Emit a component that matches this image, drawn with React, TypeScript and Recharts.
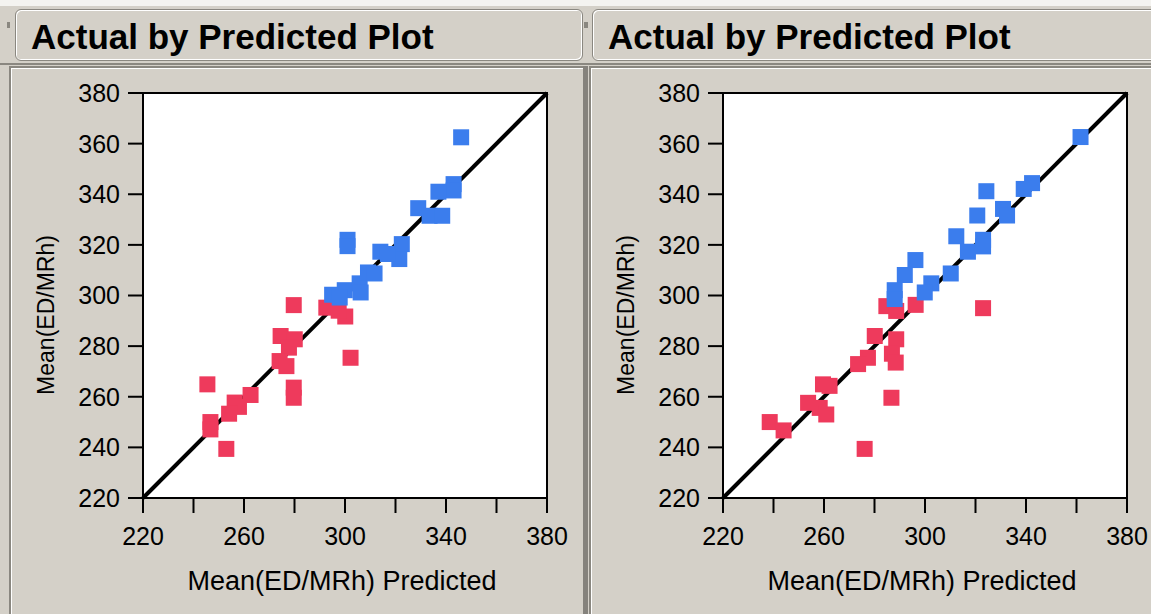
import React from "react";
import {
  ScatterChart,
  Scatter,
  XAxis,
  YAxis,
  ReferenceArea,
  ReferenceLine,
  Label,
} from "recharts";

// axis ticks
const axisTicks = [220, 240, 260, 280, 300, 320, 340, 360, 380];
const xLabelled = [220, 260, 300, 340, 380];

// left panel: predicted (x) / actual (y)
const leftBlueX = [346, 343, 343, 337, 329, 333.5, 338.5, 301, 301, 322.5, 321.5, 314, 317, 294.9, 299.9, 305.8, 306.2, 309.1, 311.7, 297.9];
const leftBlueY = [362.5, 344, 341.5, 341, 334.5, 331.5, 331.5, 322, 319.5, 320.3, 314.4, 317.3, 316.4, 300.3, 302.1, 304.8, 301.2, 309.1, 308.7, 299.2];
const leftRedX = [279.7, 292.6, 300.1, 297.5, 302.2, 274.5, 280.1, 277.8, 274.1, 276.8, 279.7, 279.7, 245.5, 262.6, 256.3, 258, 254.1, 246.7, 246.7, 253];
const leftRedY = [296.2, 295.2, 291.7, 294, 275.4, 284, 282.7, 279.4, 274.1, 272.1, 263.6, 259.6, 264.9, 260.7, 257.7, 256, 253.3, 250, 247.1, 239.4];

// right panel
const rightBlueX = [361.6, 342.4, 339.1, 324.3, 320.7, 330.9, 332.5, 312.4, 323, 323, 317, 310.2, 296.2, 292, 288, 288, 302.5, 299.9];
const rightBlueY = [362.6, 344.4, 342.1, 341.2, 331.6, 334.2, 331.6, 323.4, 322, 319.4, 317.3, 308.7, 314, 308.1, 302.1, 298.6, 304.8, 301.2];
const rightRedX = [323, 284.7, 288.6, 296.3, 280.1, 288.6, 286.9, 288.4, 277.4, 273.5, 259.6, 262.2, 253.7, 258.3, 260.9, 238.5, 244, 286.7, 276.1];
const rightRedY = [295, 295.8, 293.9, 296.3, 284, 282.7, 277, 273.5, 275.4, 272.9, 264.9, 264.3, 257.6, 255.6, 253, 250, 246.7, 259.6, 239.4];

const BLUE = "#3b7ded";
const RED = "#ee3a5c";
const FONT = "'Liberation Sans', Arial, sans-serif";

const zip = (xs: number[], ys: number[]) => xs.map((x, i) => ({ x, y: ys[i] }));

const square = (color: string) => (props: any) => (
  <rect x={props.cx - 8} y={props.cy - 8} width={16} height={16} fill={color} />
);

function Plot({ blue, red, width, right }: { blue: any[]; red: any[]; width: number; right: number }) {
  return (
    <ScatterChart width={width} height={614} margin={{ top: 93, right, bottom: 0, left: 0 }}>
      <XAxis
        type="number"
        dataKey="x"
        domain={[220, 380]}
        ticks={axisTicks}
        tickFormatter={(v: number) => (xLabelled.includes(v) ? String(v) : "")}
        interval={0}
        height={116}
        tickSize={15}
        tickMargin={14}
        axisLine={{ stroke: "#000", strokeWidth: 2 }}
        tickLine={{ stroke: "#000", strokeWidth: 2 }}
        tick={{ fill: "#000", fontSize: 25, fontFamily: FONT }}
      >
        <Label
          content={(p: any) => (
            <text
              x={p.viewBox.x + p.viewBox.width / 2 - 3}
              y={590}
              textAnchor="middle"
              fontSize={27}
              fontFamily={FONT}
              fill="#000"
            >
              Mean(ED/MRh) Predicted
            </text>
          )}
        />
      </XAxis>
      <YAxis
        type="number"
        dataKey="y"
        domain={[220, 380]}
        ticks={axisTicks}
        interval={0}
        width={143}
        tickSize={15}
        tickMargin={8}
        axisLine={{ stroke: "#000", strokeWidth: 2 }}
        tickLine={{ stroke: "#000", strokeWidth: 2 }}
        tick={{ fill: "#000", fontSize: 25, fontFamily: FONT }}
      >
        <Label
          content={(p: any) => {
            const cx = p.viewBox.x + 46;
            const cy = 315;
            return (
              <text
                x={cx}
                y={cy}
                transform={`rotate(-90 ${cx} ${cy})`}
                textAnchor="middle"
                dominantBaseline="central"
                fontSize={23}
                fontFamily={FONT}
                fill="#000"
              >
                Mean(ED/MRh)
              </text>
            );
          }}
        />
      </YAxis>
      <ReferenceArea x1={220} x2={380} y1={220} y2={380} fill="#fff" fillOpacity={1} stroke="#000" strokeWidth={2} />
      <Scatter data={red} shape={square(RED)} isAnimationActive={false} />
      <Scatter data={blue} shape={square(BLUE)} isAnimationActive={false} />
      <ReferenceLine
        segment={[
          { x: 220, y: 220 },
          { x: 380, y: 380 },
        ]}
        stroke="#000"
        strokeWidth={4}
      />
    </ScatterChart>
  );
}

function Header({ left, width }: { left: number; width: number }) {
  return (
    <div
      style={{
        position: "absolute",
        left,
        top: 9,
        width,
        height: 52,
        border: "1px solid #8a8780",
        borderRadius: 6,
        boxShadow: "inset 1px 1px 0 #fff, inset -1px -1px 0 #fff",
        boxSizing: "border-box",
      }}
    >
      <div
        style={{
          position: "absolute",
          left: 15,
          top: 9,
          fontFamily: FONT,
          fontWeight: "bold",
          fontSize: 35,
          lineHeight: "35px",
          whiteSpace: "nowrap",
          color: "#000",
        }}
      >
        Actual by Predicted Plot
      </div>
    </div>
  );
}

export default function App() {
  return (
    <div
      style={{
        position: "absolute",
        left: 0,
        top: 0,
        width: 1151,
        height: 614,
        background: "#d4d0c8",
        overflow: "hidden",
      }}
    >
      <div style={{ position: "absolute", left: 0, top: 0, width: 1151, height: 6, background: "#f4f3f0" }} />
      <Header left={15} width={568} />
      <Header left={592} width={580} />
      <div style={{ position: "absolute", left: 7, top: 22, width: 3, height: 6, background: "#8a8780" }} />
      <div style={{ position: "absolute", left: 584, top: 22, width: 4, height: 6, background: "#8a8780" }} />
      <div
        style={{
          position: "absolute",
          left: 0,
          top: 63,
          width: 1151,
          height: 2,
          background: "#8a8780",
        }}
      />
      <div
        style={{
          position: "absolute",
          left: 9,
          top: 66,
          width: 574,
          height: 560,
          borderTop: "2px solid #8a8780",
          borderLeft: "2px solid #8a8780",
          boxShadow: "inset 1px 1px 0 #fff",
          boxSizing: "border-box",
        }}
      />
      <div
        style={{
          position: "absolute",
          left: 589,
          top: 66,
          width: 600,
          height: 560,
          borderTop: "2px solid #8a8780",
          borderLeft: "2px solid #8a8780",
          boxShadow: "inset 1px 1px 0 #fff",
          boxSizing: "border-box",
        }}
      />
      <div style={{ position: "absolute", left: 583, top: 66, width: 5, height: 560, background: "#85827c" }} />
      <div style={{ position: "absolute", left: 0, top: 0 }}>
        <Plot blue={zip(leftBlueX, leftBlueY)} red={zip(leftRedX, leftRedY)} width={575} right={28} />
      </div>
      <div style={{ position: "absolute", left: 580, top: 0 }}>
        <Plot blue={zip(rightBlueX, rightBlueY)} red={zip(rightRedX, rightRedY)} width={571} right={24} />
      </div>
    </div>
  );
}
